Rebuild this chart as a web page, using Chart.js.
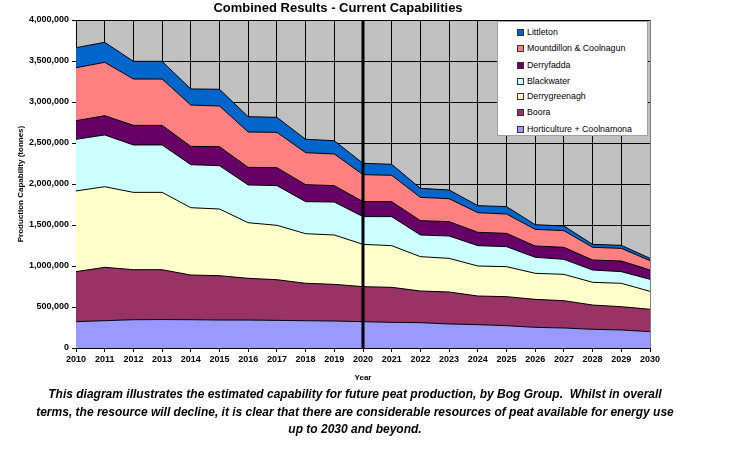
<!DOCTYPE html>
<html><head><meta charset="utf-8">
<script src="https://cdn.jsdelivr.net/npm/chart.js@4.4.0/dist/chart.umd.min.js"></script>
<style>
html,body{margin:0;padding:0;background:#fff}
body{width:731px;height:473px;overflow:hidden;position:relative;font-family:"Liberation Sans",Arial,sans-serif;color:#000}
#c{position:absolute;left:0;top:0}
#title{position:absolute;left:0;width:676px;top:0px;text-align:center;font-weight:bold;font-size:13px;line-height:16px}
#legend{position:absolute;left:497px;top:21px;width:151px;height:115px;background:#fff;border:1px solid #a0a0a0;box-sizing:border-box}
.li{position:absolute;left:19px;height:12px;line-height:12px;font-size:8.8px;white-space:nowrap}
.sw{position:absolute;left:0;top:3px;width:5px;height:5px;border:1px solid #333}
.lt{position:absolute;left:10px;top:0}
#caption{position:absolute;left:15px;width:680px;top:386px;text-align:center;font-weight:bold;font-style:italic;font-size:12px;line-height:17.5px}
</style>
</head><body>
<canvas id="c" width="731" height="473"></canvas>
<div id="title">Combined Results - Current Capabilities</div>
<div id="legend"></div>
<div id="caption">This diagram illustrates the estimated capability for future peat production, by Bog Group.&nbsp; Whilst in overall<br>terms, the resource will decline, it is clear that there are considerable resources of peat available for energy use<br>up to 2030 and beyond.</div>
<script>
const years = ['2010','2011','2012','2013','2014','2015','2016','2017','2018','2019','2020','2021','2022','2023','2024','2025','2026','2027','2028','2029','2030'];
const markerYear = '2020';

const horticultureCoolnamona = [321000,333000,345000,347000,345000,341000,341000,337000,333000,329000,321000,313000,309000,293000,285000,272000,252000,244000,228000,220000,199000];
const boora = [610000,651000,610000,608000,545000,541000,509000,496000,456000,447000,427000,427000,386000,390000,349000,354000,341000,333000,296000,284000,273000];
const derrygreenagh = [984000,983000,943000,943000,821000,813000,678000,663000,605000,602000,516000,508000,419000,410000,366000,366000,318000,321000,277000,285000,219000];
const blackwater = [630000,631000,578000,578000,525000,528000,460000,484000,391000,402000,338000,354000,264000,273000,248000,244000,195000,183000,150000,142000,146000];
const derryfadda = [227000,235000,239000,239000,223000,232000,215000,219000,207000,200000,183000,183000,175000,175000,163000,162000,138000,147000,122000,130000,114000];
const mountdillonCoolnagun = [646000,651000,565000,565000,504000,496000,431000,431000,390000,386000,329000,321000,284000,280000,239000,236000,203000,203000,155000,154000,114000];
const littleton = [244000,244000,216000,216000,196000,204000,187000,183000,163000,162000,138000,134000,110000,106000,86000,90000,57000,57000,36000,37000,28000];

const seriesNames = ['Horticulture + Coolnamona','Boora','Derrygreenagh','Blackwater','Derryfadda','Mountdillon & Coolnagun','Littleton'];
const seriesValues = [horticultureCoolnamona, boora, derrygreenagh, blackwater, derryfadda, mountdillonCoolnagun, littleton];
const seriesColors = ['#9999FF','#993366','#FFFFCC','#CCFFFF','#660066','#FF8080','#0066CC'];

const datasets = seriesNames.map((name, i) => ({
  label: name,
  data: seriesValues[i],
  backgroundColor: seriesColors[i],
  borderColor: '#000',
  borderWidth: 1,
  pointRadius: 0,
  pointHoverRadius: 0,
  tension: 0,
  fill: i === 0 ? 'origin' : '-1'
}));

const bgPlugin = {
  id: 'plotBg',
  beforeDraw(chart) {
    const {ctx, chartArea: a} = chart;
    ctx.save();
    ctx.fillStyle = '#C0C0C0';
    ctx.fillRect(a.left, a.top, a.right - a.left, a.bottom - a.top);
    ctx.restore();
  },
  afterDraw(chart) {
    const {ctx, chartArea: a} = chart;
    ctx.save();
    ctx.strokeStyle = '#808080';
    ctx.lineWidth = 1;
    ctx.beginPath();
    ctx.moveTo(a.right + 0.5, a.top);
    ctx.lineTo(a.right + 0.5, a.bottom);
    ctx.stroke();
    ctx.restore();
  }
};
const markerPlugin = {
  id: 'marker',
  afterDatasetsDraw(chart) {
    const {ctx, chartArea: a, scales} = chart;
    const x = scales.x.getPixelForValue(years.indexOf(markerYear));
    ctx.save();
    ctx.fillStyle = '#000';
    ctx.fillRect(x - 1.5, a.top, 3, a.bottom - a.top);
    ctx.restore();
  }
};

Chart.defaults.font.family = '"Liberation Sans", Arial, sans-serif';
Chart.defaults.color = '#000';

new Chart(document.getElementById('c'), {
  type: 'line',
  data: { labels: years, datasets },
  options: {
    responsive: false,
    animation: false,
    events: [],
    layout: { padding: { left: 0, top: 20, right: 81, bottom: 90 } },
    plugins: { legend: { display: false }, tooltip: { enabled: false }, title: { display: false } },
    scales: {
      x: {
        type: 'category',
        offset: false,
        grid: { color: '#000', lineWidth: 1, tickLength: 4, drawOnChartArea: true, tickColor: '#000' },
        border: { color: '#000', width: 1 },
        ticks: { font: { size: 9, weight: 'bold' }, color: '#000', maxRotation: 0, autoSkip: false, padding: 2 },
        title: { display: true, text: 'Year', font: { size: 8, weight: 'bold' }, padding: { top: 0, bottom: 0 } },
        afterFit(s) { s.height = 35; }
      },
      y: {
        stacked: true,
        min: 0,
        max: 4000000,
        grid: { color: '#000', lineWidth: 1, tickLength: 4, tickColor: '#000' },
        border: { color: '#000', width: 1 },
        ticks: { stepSize: 500000, font: { size: 9, weight: 'bold' }, color: '#000', padding: 3,
          callback: v => Number(v).toLocaleString('en-US') },
        title: { display: true, text: 'Production Capability (tonnes)', font: { size: 8, weight: 'bold' }, padding: { top: 16, bottom: 0 } },
        afterFit(s) { s.width = 76; }
      }
    }
  },
  plugins: [bgPlugin, markerPlugin]
});

// legend (top-most series first)
const legend = document.getElementById('legend');
const itemTops = [4, 20, 37, 53, 68, 84, 101];
seriesNames.slice().reverse().forEach((name, k) => {
  const i = seriesNames.length - 1 - k;
  const d = document.createElement('div');
  d.className = 'li';
  d.style.top = itemTops[k] + 'px';
  const sw = document.createElement('span');
  sw.className = 'sw';
  sw.style.background = seriesColors[i];
  const t = document.createElement('span');
  t.className = 'lt';
  t.textContent = name;
  d.appendChild(sw); d.appendChild(t);
  legend.appendChild(d);
});
</script>
</body></html>
